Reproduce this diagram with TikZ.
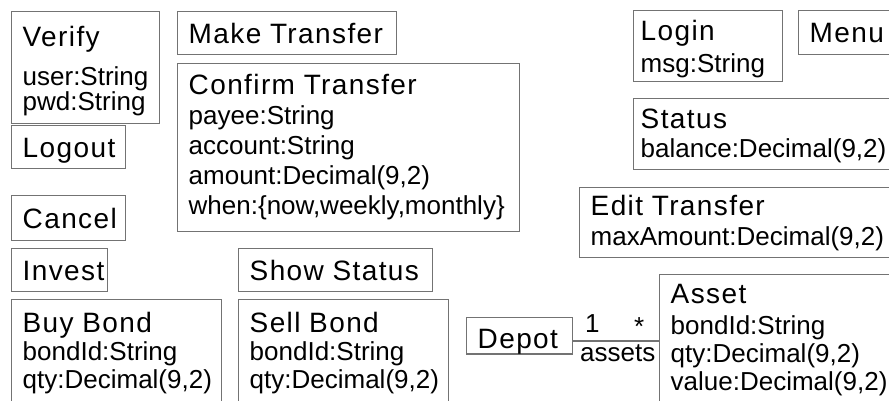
\documentclass[tikz,border=0pt]{standalone}
\usepackage{fontspec}
\setmainfont{Liberation Sans}
\newfontfamily\titlefam[LetterSpace=5]{Liberation Sans}
\usetikzlibrary{positioning,calc}

\lineskiplimit=-\maxdimen
\newcommand{\ttl}[1]{{\titlefam\fontsize{28}{30}\selectfont #1}}
\newcommand{\topgap}[1]{\rule{0pt}{#1pt}}
\newcommand{\botgap}[1]{\rule[-#1pt]{0pt}{#1pt}}

\tikzset{
  screen/.style={draw=black!55, line width=1.4pt, anchor=north west, align=left,
    inner xsep=11pt, inner ysep=0pt, font=\fontsize{26}{30}\selectfont},
  pitch/.style={font=\fontsize{26}{#1}\selectfont},
  conn/.style={draw=black!55, line width=1.4pt},
  lbl/.style={font=\fontsize{26}{30}\selectfont, inner sep=0pt},
}

\begin{document}
\begin{tikzpicture}[x=1pt, y=-1pt]
  \useasboundingbox (0,0) rectangle (889,401);
  \clip (0,0) rectangle (889,401);
  \fill[white] (0,0) rectangle (889,401);

  % left column
  \node[screen, pitch=22, text width=126pt] (verify) at (11,11)
    {\topgap{35}\ttl{Verify}\\[13pt]user:String\\pwd:String\botgap{13}};
  \node[screen, text width=92pt] (logout) at (11,125) {\topgap{32}\ttl{Logout}\botgap{11}};
  \node[screen, text width=92pt] (cancel) at (11,195) {\topgap{33}\ttl{Cancel}\botgap{12}};
  \node[screen, text width=74pt] (invest) at (11,248) {\topgap{32}\ttl{Invest}\botgap{11}};
  \node[screen, pitch=28, text width=188pt] (buybond) at (11,299)
    {\topgap{33}\ttl{Buy Bond}\\bondId:String\\qty:Decimal(9,2)\botgap{30}};

  % middle column
  \node[screen, text width=197pt] (maketransfer) at (177,11) {\topgap{32}\ttl{Make Transfer}\botgap{11}};
  \node[screen, text width=320pt] (confirm) at (177,63)
    {\topgap{31}\ttl{Confirm Transfer}\\payee:String\\account:String\\amount:Decimal(9,2)\\when:\{now,weekly,monthly\}\botgap{17}};
  \node[screen, text width=172pt] (showstatus) at (238,248) {\topgap{32}\ttl{Show Status}\botgap{11}};
  \node[screen, pitch=28, text width=188pt] (sellbond) at (238,299)
    {\topgap{33}\ttl{Sell Bond}\\bondId:String\\qty:Decimal(9,2)\botgap{30}};

  % right column
  \node[screen, inner xsep=7pt, text width=135pt] (login) at (633,10)
    {\topgap{30}\ttl{Login}\\[2pt]msg:String\botgap{9}};
  \node[screen, text width=118pt] (menu) at (798,10) {\topgap{32}\ttl{Menu}\botgap{12}};
  \node[screen, pitch=29, inner xsep=7pt, text width=286pt] (status) at (633,98)
    {\topgap{30}\ttl{Status}\\balance:Decimal(9,2)\botgap{12}};
  \node[screen, text width=308pt] (edittransfer) at (579,187)
    {\topgap{28}\ttl{Edit Transfer}\\maxAmount:Decimal(9,2)\botgap{12}};
  \node[screen, text width=84pt] (depot) at (466,317) {\topgap{30.5}\ttl{Depot}\botgap{5.5}};
  \node[screen, pitch=28, text width=238pt] (asset) at (659,274)
    {\topgap{29}\ttl{Asset}\\[3pt]bondId:String\\qty:Decimal(9,2)\\value:Decimal(9,2)\botgap{30}};

  % association
  \coordinate (da) at ($(depot.east)+(0,5)$);
  \draw[conn] (da) -- (da -| asset.west)
    node[pos=0, lbl, anchor=base west, xshift=11pt, yshift=8pt] (one) {1}
    node[pos=1, lbl, anchor=base east, xshift=-14pt, yshift=5pt] (many) {*}
    node[pos=1, lbl, anchor=base east, xshift=-3pt, yshift=-21pt] (role) {assets};
\end{tikzpicture}
\end{document}
